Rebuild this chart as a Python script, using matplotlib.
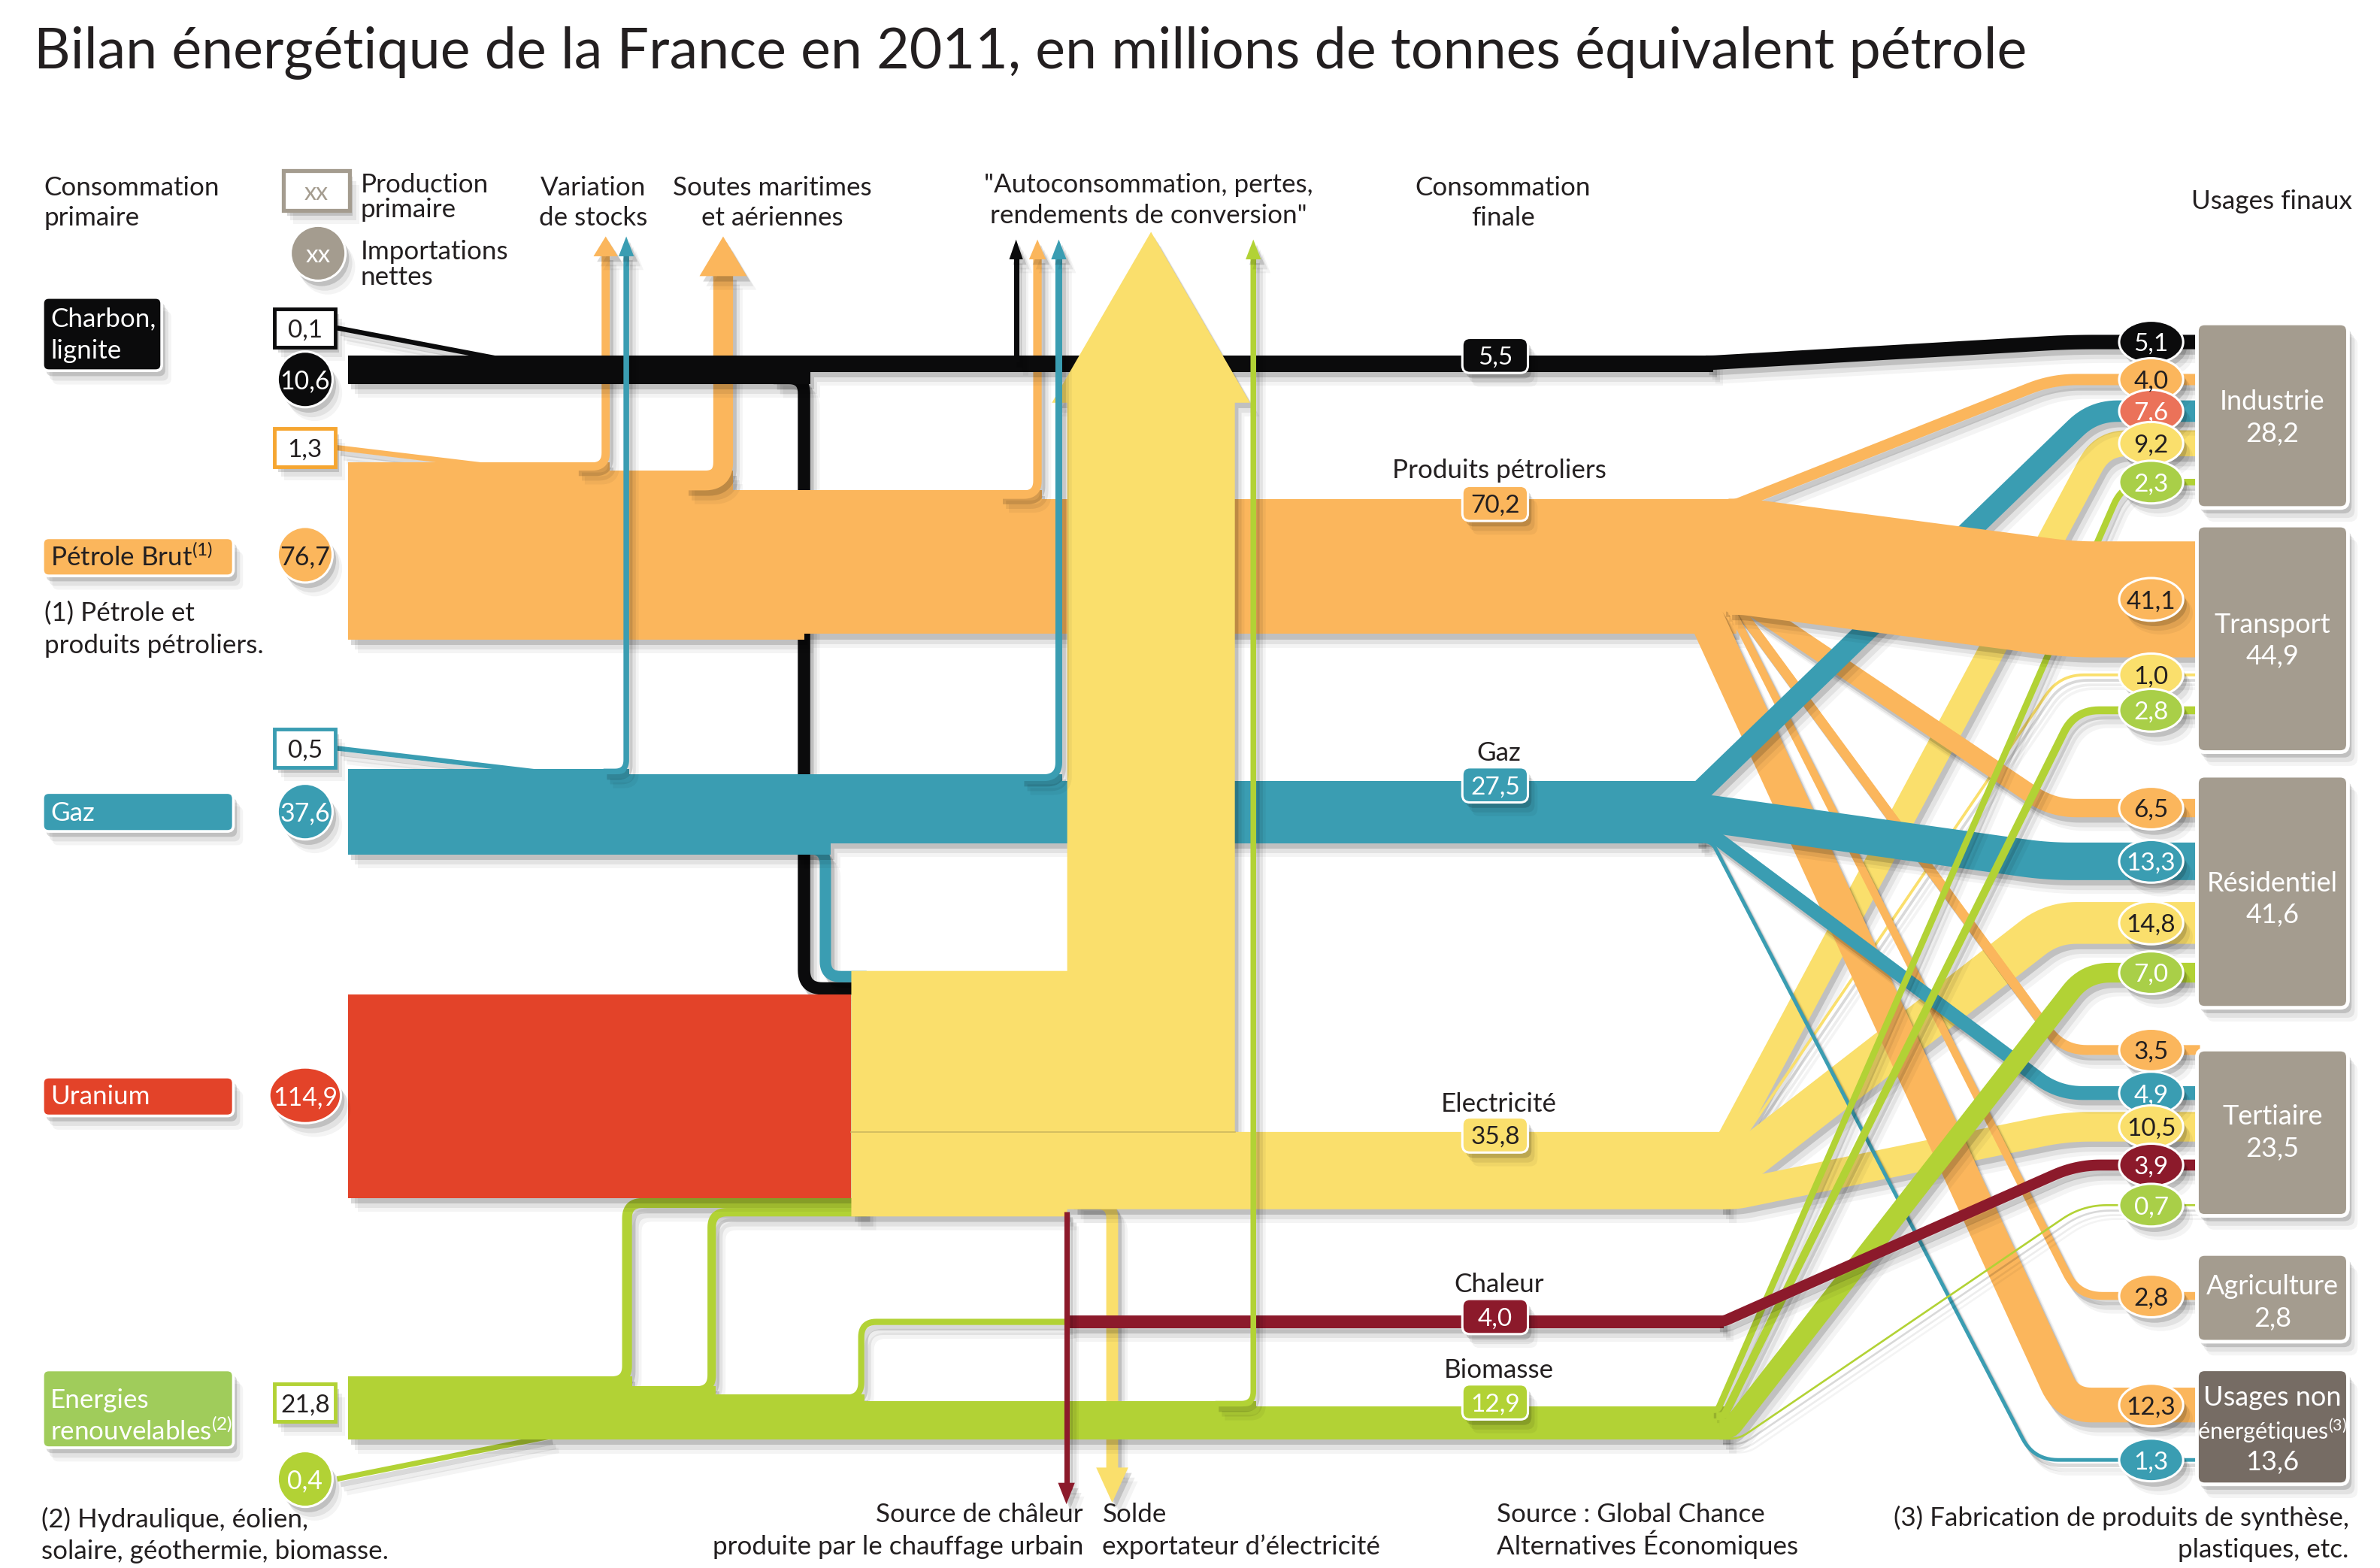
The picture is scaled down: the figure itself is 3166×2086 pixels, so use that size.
import numpy as np
import matplotlib
matplotlib.use("Agg")
import matplotlib.pyplot as plt
from matplotlib.patches import Polygon, FancyBboxPatch, Ellipse, Rectangle
from matplotlib.lines import Line2D
import matplotlib.patheffects as pe

plt.rcParams["font.family"] = ["Lato", "DejaVu Sans"]
plt.rcParams["mathtext.fontset"] = "custom"
plt.rcParams["mathtext.rm"] = "Lato"
plt.rcParams["mathtext.it"] = "Lato:italic"
plt.rcParams["mathtext.bf"] = "Lato:bold"

# ============================ DATA ============================
TITLE = "Bilan énergétique de la France en 2011, en millions de tonnes équivalent pétrole"

source_labels = ["Charbon,\nlignite", "Pétrole Brut$^{\\mathrm{(1)}}$", "Gaz", "Uranium",
                 "Energies\nrenouvelables$^{\\mathrm{(2)}}$"]
primary_production = [0.1, 1.3, 0.5, None, 21.8]
net_imports = [10.6, 76.7, 37.6, 114.9, 0.4]

carrier_keys = ["coal", "oil", "gas", "elec", "heat", "bio"]
carrier_labels = [None, "Produits pétroliers", "Gaz", "Electricité", "Chaleur", "Biomasse"]
carrier_values = [5.5, 70.2, 27.5, 35.8, 4.0, 12.9]

sector_labels = ["Industrie", "Transport", "Résidentiel", "Tertiaire", "Agriculture",
                 "Usages non\nénergétiques$^{\\mathrm{(3)}}$"]
sector_totals = [28.2, 44.9, 41.6, 23.5, 2.8, 13.6]

link_source = ["coal", "oil", "gas", "elec", "bio",
               "oil", "elec", "bio",
               "oil", "gas", "elec", "bio",
               "oil", "gas", "elec", "heat", "bio",
               "oil",
               "oil", "gas"]
link_sector = [0, 0, 0, 0, 0, 1, 1, 1, 2, 2, 2, 2, 3, 3, 3, 3, 3, 4, 5, 5]
link_value = [5.1, 4.0, 7.6, 9.2, 2.3,
              41.1, 1.0, 2.8,
              6.5, 13.3, 14.8, 7.0,
              3.5, 4.9, 10.5, 3.9, 0.7,
              2.8,
              12.3, 1.3]

# flows drawn without a label (magnitudes)
stock_oil, stock_gas = 2.9, 2.0
bunkers_oil = 7.0
own_use = {"coal": 1.9, "oil": 3.0, "gas": 2.4, "ren": 2.0}
to_power = {"coal": 4.4, "oil": 2.0, "gas": 4.0, "ren_a": 3.5, "ren_b": 3.0}
ren_to_heat = 2.2
power_losses = 91.0
power_export = 4.2
heat_source = 1.9

headers = [("Consommation", "primaire"), ("Variation", "de stocks"),
           ("Soutes maritimes", "et aériennes"),
           ('"Autoconsommation, pertes,', 'rendements de conversion"'),
           ("Consommation", "finale")]
legend_texts = [("Production", "primaire"), ("Importations", "nettes")]
notes = ["(1) Pétrole et", "produits pétroliers.",
         "(2) Hydraulique, éolien,", "solaire, géothermie, biomasse.",
         "Source de châleur", "produite par le chauffage urbain",
         "Solde", "exportateur d’électricité",
         "Source : Global Chance", "Alternatives Économiques",
         "(3) Fabrication de produits de synthèse,", "plastiques, etc."]

# ============================ LAYOUT / STYLE ============================
S = 2.0295                      # output px per layout unit
W, H = 3166 / S, 2086 / S
PT = 72 / 200 * S               # points per layout unit
FS = 12.6
TXT = "#231F20"

COL = {"coal": "#0B0B0C", "oil": "#FBB65C", "gas": "#3A9DB2", "elec": "#FADF6C",
       "heat": "#8C1A2B", "bio": "#B2D235", "uranium": "#E34329"}
CIRC = {"coal": "#0B0B0C", "oil": "#FBB65C", "gas": "#3A9DB2", "elec": "#FADF6C",
        "heat": "#8C1A2B", "bio": "#A9CF48"}
CIRC_TXT = {"coal": "white", "oil": TXT, "gas": "white", "elec": TXT, "heat": "white", "bio": "white"}
circle_override = {2: "#EB7259"}
GREY, DGREY = "#A49C8F", "#766C64"


def band_h(v):          # thickness of the horizontal carrier bands
    return 2.6 * v ** 0.83


def link_w(v):          # thickness of the individual flows
    return 1.85 * v


X_L = 228
C_TOP, O_TOP, G_TOP, E_TOP, HEAT_Y, B_TOP, U_TOP = 233, 327, 512, 742, 866.5, 922, 652
X_PLANT, X_SHAFT = 558, 699.5
X_OS, X_GS, X_SOU = 397, 410.5, 474
X_COAL_DN, X_GAS_DN = 527, 541
X_AUTO = {"coal": 666, "oil": 680, "gas": 694, "ren": 821.5}
X_REN = [411, 466.5, 564.5]
X_EXPORT, X_HSRC = 729, 699
Y_TIP, Y_BASE = 157, 170
X_CIRC, X_BOX0, X_BOX1 = 1410, 1440, 1539
X_END = {"coal": 1123, "oil": 1138, "gas": 1116, "elec": 1132, "heat": 1130, "bio": 1132}

link_circle_y = [224.2, 248.8, 269.5, 290.6, 316, 392.9, 442.4, 465.6, 529.7, 564.6, 605, 637.6,
                 688.3, 716.5, 738.6, 763.7, 790, 849.5, 921, 957]
link_xa = [1123, 1138, 1114, 1132, 1126, 1144, 1136, 1130, 1134, 1120, 1136, 1134,
           1136, 1122, 1138, 1130, 1140, 1134, 1118, 1122]
link_xb = [1357, 1345, 1372, 1378, 1392, 1357, 1350, 1360, 1345, 1342, 1345, 1367,
           1352, 1349, 1354, 1361, 1365, 1362, 1355, 1333]
link_z = {"elec": 3.50, "oil": 3.51, "gas": 3.52, "bio": 3.53, "heat": 3.54, "coal": 3.55}

sector_box_y = [(212, 333), (344.5, 493), (508.5, 660.6), (688, 797), (822, 879.5), (897.6, 973)]
sector_text_y = [262, 408, 577.5, 730.6, 842, 915]

fig = plt.figure(figsize=(3166 / 200, 2086 / 200), dpi=200)
ax = fig.add_axes([0, 0, 1, 1])
ax.set_xlim(0, W)
ax.set_ylim(H, 0)
ax.axis("off")


def fmt(v):
    return f"{v:.1f}".replace(".", ",")


def fx_line():
    return [pe.Stroke(offset=(4.6, -6.6), foreground="k", alpha=0.045),
            pe.Stroke(offset=(3.2, -4.8), foreground="k", alpha=0.07),
            pe.Stroke(offset=(1.7, -2.6), foreground="k", alpha=0.15), pe.Normal()]


def fx_patch():
    return [pe.SimplePatchShadow(offset=(4.6, -6.6), shadow_rgbFace="k", alpha=0.045),
            pe.SimplePatchShadow(offset=(3.2, -4.8), shadow_rgbFace="k", alpha=0.07),
            pe.SimplePatchShadow(offset=(1.7, -2.6), shadow_rgbFace="k", alpha=0.15), pe.Normal()]


def rounded(pts, r):
    pts = [np.array(p, float) for p in pts]
    out = [pts[0]]
    for i in range(1, len(pts) - 1):
        p0, p1, p2 = pts[i - 1], pts[i], pts[i + 1]
        d1, d2 = p1 - p0, p2 - p1
        l1, l2 = np.hypot(*d1), np.hypot(*d2)
        rr = min(r, l1 / 2, l2 / 2)
        a, b = p1 - d1 / l1 * rr, p1 + d2 / l2 * rr
        t = np.linspace(0, 1, 14)[:, None]
        out.extend((1 - t) ** 2 * a + 2 * (1 - t) * t * p1 + t ** 2 * b)
    out.append(pts[-1])
    return np.array(out)


def stroke(pts, w, color, z, r=12, fx=True):
    P = rounded(pts, r)
    ln = Line2D(P[:, 0], P[:, 1], linewidth=w * PT, color=color,
                solid_capstyle="butt", solid_joinstyle="round", zorder=z)
    if fx:
        ln.set_path_effects(fx_line())
    ax.add_line(ln)


def poly(pts, color, z, fx=True):
    p = Polygon(pts, closed=True, fc=color, ec="none", zorder=z)
    if fx:
        p.set_path_effects(fx_patch())
    ax.add_patch(p)


def head(x, yb, yt, hw, color, z):
    poly([(x - hw, yb), (x + hw, yb), (x, yt)], color, z)


def T(x, y, s, size=FS, ha="left", color=TXT, va="baseline", z=8):
    return ax.text(x, y, s, fontsize=size, ha=ha, va=va, color=color, zorder=z)


def lines(x, y0, ls, dy, **kw):
    for i, l in enumerate(ls):
        T(x, y0 + i * dy, l, **kw)


def rbox(x0, y0, x1, y1, fc, ec="white", lw=1.6, rs=4, z=7, fx=True):
    p = FancyBboxPatch((x0, y0), x1 - x0, y1 - y0, boxstyle=f"round,pad=0,rounding_size={rs}",
                       fc=fc, ec=ec, lw=lw * PT, zorder=z)
    if fx:
        p.set_path_effects(fx_patch())
    ax.add_patch(p)


def ell(cx, cy, w, h, fc, txt, tc, size=FS - 0.6, z=9):
    e = Ellipse((cx, cy), w, h, fc=fc, ec="white", lw=1.5 * PT, zorder=z)
    e.set_path_effects(fx_patch())
    ax.add_patch(e)
    T(cx, cy, txt, size=size, ha="center", va="center_baseline", color=tc, z=z + 0.5)


# ---------------- thicknesses ----------------
hC, hO, hG, hE, hH, hB = [band_h(v) for v in carrier_values]
hU = band_h(net_imports[3])
wLoss = band_h(power_losses)
wCe, wCa = link_w(to_power["coal"]), link_w(own_use["coal"])
wOs, wOb, wOa, wOe = link_w(stock_oil), link_w(bunkers_oil), link_w(own_use["oil"]), link_w(to_power["oil"])
wGs, wGa, wGe = link_w(stock_gas), link_w(own_use["gas"]), link_w(to_power["gas"])
wRa, wRb, wRh, wRu = link_w(to_power["ren_a"]), link_w(to_power["ren_b"]), link_w(ren_to_heat), link_w(own_use["ren"])
wX, wHs = link_w(power_export), link_w(heat_source)

U_BOT = U_TOP + hU
block_top = U_TOP - wCe - wGe
block_bot = U_BOT + wRa + wRb
E_BOT = E_TOP + hE
ot0 = O_TOP - wOs - wOb - wOa
gt0 = G_TOP - wGs - wGa
rt0 = B_TOP - wRa - wRb - wRh - wRu

# ---------------- final-use links (fan-out) ----------------
src_geom = {"coal": (C_TOP, hC), "oil": (O_TOP, hO), "gas": (G_TOP, hG), "elec": (E_TOP, hE),
            "heat": (HEAT_Y - hH / 2, hH), "bio": (B_TOP, hB)}
groups = {}
for i, s in enumerate(link_source):
    groups.setdefault(s, []).append(i)
y0 = [0.0] * len(link_value)
for s, idx in groups.items():
    top, h = src_geom[s]
    ws = [link_w(link_value[i]) for i in idx]
    f = min(1.0, h / sum(ws))
    cum = 0.0
    for i, w in zip(idx, ws):
        c = top + (cum + w / 2) * f
        lo, hi = top + w / 2, top + h - w / 2
        c = min(max(c, lo), hi) if lo <= hi else top + h / 2
        y0[i] = c
        cum += w

for i, s in enumerate(link_source):
    w = link_w(link_value[i])
    z = link_z[s] + (0.05 if (s == "oil" and link_sector[i] == 1) else 0)
    yc = link_circle_y[i]
    xs = min(X_END[s], link_xa[i]) - 5
    stroke([(xs, y0[i]), (link_xa[i], y0[i]), (link_xb[i], yc), (X_BOX0 + 2, yc)],
           max(w, 1.3), COL[s], z, r=16)

# ---------------- lines hidden behind the bands ----------------
stroke([(X_COAL_DN - 20, C_TOP + hC + wCe / 2), (X_COAL_DN, C_TOP + hC + wCe / 2),
        (X_COAL_DN, block_top + wGe + wCe / 2), (X_PLANT + 10, block_top + wGe + wCe / 2)],
       wCe, COL["coal"], 2.9, r=12)
stroke([(X_GAS_DN - 20, G_TOP + hG + wGe / 2), (X_GAS_DN, G_TOP + hG + wGe / 2),
        (X_GAS_DN, block_top + wGe / 2), (X_PLANT + 10, block_top + wGe / 2)],
       wGe, COL["gas"], 2.9, r=10)
stroke([(X_REN[0] - 20, rt0 + wRa / 2), (X_REN[0], rt0 + wRa / 2),
        (X_REN[0], U_BOT + wRa / 2), (X_PLANT + 10, U_BOT + wRa / 2)], wRa, COL["bio"], 2.9, r=10)
stroke([(X_REN[1] - 20, rt0 + wRa + wRb / 2), (X_REN[1], rt0 + wRa + wRb / 2),
        (X_REN[1], U_BOT + wRa + wRb / 2), (X_PLANT + 10, U_BOT + wRa + wRb / 2)], wRb, COL["bio"], 2.9, r=10)
stroke([(X_REN[2] - 20, rt0 + wRa + wRb + wRh / 2), (X_REN[2], rt0 + wRa + wRb + wRh / 2),
        (X_REN[2], HEAT_Y), (X_HSRC, HEAT_Y)], wRh, COL["bio"], 2.9, r=10)
# export of electricity, heat source
stroke([(X_EXPORT - 25, E_BOT - wX / 2), (X_EXPORT, E_BOT - wX / 2), (X_EXPORT, 963)], wX, COL["elec"], 2.95, r=10)
head(X_EXPORT, 962, 985, 10.5, COL["elec"], 2.95)
stroke([(X_HSRC, block_bot - 3), (X_HSRC, 973)], wHs, COL["heat"], 3.36, r=5)
head(X_HSRC, 972, 986, 5.5, COL["heat"], 3.36)

# ---------------- primary bands ----------------
poly([(X_L, U_TOP), (X_PLANT, U_TOP), (X_PLANT, U_BOT), (X_L, U_BOT)], COL["uranium"], 3.0)

poly([(X_L, ot0), (X_OS + wOs / 2, ot0), (X_OS + wOs / 2, ot0 + wOs),
      (X_SOU + wOb / 2, ot0 + wOs), (X_SOU + wOb / 2, ot0 + wOs + wOb),
      (X_AUTO["oil"] + wOa / 2, ot0 + wOs + wOb), (X_AUTO["oil"] + wOa / 2, O_TOP),
      (X_END["oil"], O_TOP), (X_END["oil"], O_TOP + hO), (X_COAL_DN, O_TOP + hO),
      (X_COAL_DN, O_TOP + hO + wOe), (X_L, O_TOP + hO + wOe)], COL["oil"], 3.0)

poly([(X_L, gt0), (X_GS + wGs / 2, gt0), (X_GS + wGs / 2, gt0 + wGs),
      (X_AUTO["gas"] + wGa / 2, gt0 + wGs), (X_AUTO["gas"] + wGa / 2, G_TOP),
      (X_END["gas"], G_TOP), (X_END["gas"], G_TOP + hG), (X_GAS_DN + wGe / 2, G_TOP + hG),
      (X_GAS_DN + wGe / 2, G_TOP + hG + wGe), (X_L, G_TOP + hG + wGe)], COL["gas"], 3.05)

poly([(X_L, rt0), (X_REN[0] + wRa / 2, rt0), (X_REN[0] + wRa / 2, rt0 + wRa),
      (X_REN[1] + wRb / 2, rt0 + wRa), (X_REN[1] + wRb / 2, rt0 + wRa + wRb),
      (X_REN[2] + wRh / 2, rt0 + wRa + wRb), (X_REN[2] + wRh / 2, rt0 + wRa + wRb + wRh),
      (X_AUTO["ren"] + wRu / 2, rt0 + wRa + wRb + wRh), (X_AUTO["ren"] + wRu / 2, B_TOP),
      (X_END["bio"], B_TOP), (X_END["bio"], B_TOP + hB), (X_L, B_TOP + hB)], COL["bio"], 3.0)

poly([(X_HSRC, HEAT_Y - hH / 2), (X_END["heat"], HEAT_Y - hH / 2),
      (X_END["heat"], HEAT_Y + hH / 2), (X_HSRC, HEAT_Y + hH / 2)], COL["heat"], 3.02)

# branches over the oil band
stroke([(X_OS - 20, ot0 + wOs / 2), (X_OS, ot0 + wOs / 2), (X_OS, 167)], wOs, COL["oil"], 3.1, r=9)
head(X_OS, 168, 155, 8, COL["oil"], 3.1)
stroke([(X_SOU - 25, ot0 + wOs + wOb / 2), (X_SOU, ot0 + wOs + wOb / 2), (X_SOU, 180)], wOb, COL["oil"], 3.1, r=12)
head(X_SOU, 181, 155, 15.5, COL["oil"], 3.1)
stroke([(X_AUTO["oil"] - 25, ot0 + wOs + wOb + wOa / 2), (X_AUTO["oil"], ot0 + wOs + wOb + wOa / 2),
        (X_AUTO["oil"], Y_BASE - 1)], wOa, COL["oil"], 3.1, r=9)
head(X_AUTO["oil"], Y_BASE, Y_TIP, 5.5, COL["oil"], 3.1)

# coal band
poly([(X_L, C_TOP), (X_END["coal"], C_TOP), (X_END["coal"], C_TOP + hC),
      (X_COAL_DN + wCe / 2, C_TOP + hC), (X_COAL_DN + wCe / 2, C_TOP + hC + wCe),
      (X_L, C_TOP + hC + wCe)], COL["coal"], 3.2)
stroke([(X_AUTO["coal"], C_TOP + 4), (X_AUTO["coal"], Y_BASE - 1)], wCa, COL["coal"], 3.2, r=5)
head(X_AUTO["coal"], Y_BASE, Y_TIP, 4.5, COL["coal"], 3.2)

# power plants block + arrow of losses + electricity band
xr = X_SHAFT + wLoss
poly([(X_PLANT, block_top), (X_SHAFT, block_top), (X_SHAFT, 264), (X_SHAFT - 10, 264),
      ((X_SHAFT + xr) / 2, 152), (xr + 10, 264), (xr, 264), (xr, E_TOP), (X_END["elec"], E_TOP),
      (X_END["elec"], E_BOT), (X_SHAFT, E_BOT), (X_SHAFT, block_bot), (X_PLANT, block_bot)],
     COL["elec"], 3.3)
ax.plot([X_PLANT, xr], [E_TOP, E_TOP], color="#CDB85E", lw=0.6, zorder=3.31)

# gas branches (over oil band and block)
stroke([(X_GS - 15, gt0 + wGs / 2), (X_GS, gt0 + wGs / 2), (X_GS, Y_BASE - 3)], wGs, COL["gas"], 3.4, r=8)
head(X_GS, 168, 155, 5, COL["gas"], 3.4)
stroke([(X_AUTO["gas"] - 25, gt0 + wGs + wGa / 2), (X_AUTO["gas"], gt0 + wGs + wGa / 2),
        (X_AUTO["gas"], Y_BASE - 1)], wGa, COL["gas"], 3.4, r=10)
head(X_AUTO["gas"], Y_BASE, Y_TIP, 5, COL["gas"], 3.4)
stroke([(X_AUTO["ren"] - 25, rt0 + wRa + wRb + wRh + wRu / 2), (X_AUTO["ren"], rt0 + wRa + wRb + wRh + wRu / 2),
        (X_AUTO["ren"], Y_BASE - 1)], wRu, COL["bio"], 3.4, r=8)
head(X_AUTO["ren"], Y_BASE, Y_TIP, 5, COL["bio"], 3.4)

# small production / import lines on the left
stroke([(221, 215), (324, C_TOP + 1.6)], max(link_w(primary_production[0]), 3.2), COL["coal"], 2.95)
stroke([(221, 293.5), (318, ot0 + 2)], max(link_w(primary_production[1]), 3.5), COL["oil"], 2.95)
stroke([(221, 490.5), (350, gt0 + 1.8)], max(link_w(primary_production[2]), 3.2), COL["gas"], 2.95)
stroke([(221, 969.5), (360, B_TOP + hB - 2)], max(link_w(net_imports[4]), 3.5), COL["bio"], 2.95)

# ============================ TEXT & MARKERS ============================
title = T(22, 44.7, TITLE, size=25)

lines(29, 128, headers[0], 20)
lines(389, 128, headers[1], 20, ha="center")
lines(506, 128, headers[2], 20, ha="center")
lines(753, 126, headers[3], 20.5, ha="center")
lines(985, 128, headers[4], 20, ha="center")
T(1489, 137, "Usages finaux", ha="center")

# legend
r = Rectangle((186, 112), 43, 26, fc="white", ec=GREY, lw=2.6 * PT, zorder=7)
r.set_path_effects(fx_patch())
ax.add_patch(r)
T(207.5, 125, "xx", ha="center", va="center_baseline", color=GREY, size=FS - 1)
ell(208.5, 166, 36, 36, GREY, "xx", "white")
lines(236.5, 126, legend_texts[0], 16.5)
lines(236.5, 170, legend_texts[1], 16.5)

# primary source label boxes
rbox(28, 195, 106, 243, COL["coal"], lw=1.8)
lines(33, 214, source_labels[0].split("\n"), 21, color="white")
rbox(28, 352.5, 153, 377.5, COL["oil"], lw=1.8)
T(33, 371, source_labels[1])
lines(29, 407, notes[0:2], 21)
rbox(28, 519.5, 153, 545, COL["gas"], lw=1.8)
T(33, 538, source_labels[2], color="white")
rbox(28, 706, 153, 731.5, COL["uranium"], lw=1.8)
T(33, 724, source_labels[3], color="white")
rbox(28, 898, 153, 949, "#A0CC5B", lw=1.8)
lines(33, 923, source_labels[4].split("\n"), 21, color="white")
lines(27, 1001, notes[2:4], 21)

# primary production (boxes) and net imports (circles)
prod_y = [215, 293.5, 490.5, None, 919.5]
imp_y = [248.7, 363.6, 532, 718, 969.5]
prod_ec = [COL["coal"], "#F6A631", COL["gas"], None, COL["bio"]]
imp_fc = [COL["coal"], COL["oil"], COL["gas"], COL["uranium"], COL["bio"]]
imp_tc = ["white", TXT, "white", "white", "white"]
for k in range(5):
    if primary_production[k] is not None:
        rr = Rectangle((180, prod_y[k] - 12.5), 40, 25, fc="white", ec=prod_ec[k], lw=2.4 * PT, zorder=7)
        rr.set_path_effects(fx_patch())
        ax.add_patch(rr)
        T(200, prod_y[k], fmt(primary_production[k]), ha="center", va="center_baseline", size=FS - 0.6)
    wid = 47 if net_imports[k] >= 100 else 36
    ell(200, imp_y[k], wid, 36.5, imp_fc[k], fmt(net_imports[k]), imp_tc[k], size=FS - 0.4)

# carrier labels and value boxes
lab_y = [None, 313.5, 498.6, 728.6, 847, 903]
box_y = [233, 330, 514.5, 744, 863, 919]
box_fc = [COL["coal"], COL["oil"], COL["gas"], COL["elec"], COL["heat"], COL["bio"]]
box_tc = ["white", TXT, "white", TXT, "white", "white"]
for k in range(6):
    if carrier_labels[k]:
        T(982.5, lab_y[k], carrier_labels[k], ha="center")
    rbox(958.5, box_y[k] - 11.5, 1001.5, box_y[k] + 11.5, box_fc[k], lw=1.5, rs=5)
    T(980, box_y[k], fmt(carrier_values[k]), ha="center", va="center_baseline", color=box_tc[k], size=FS - 0.6)

# link value circles
for i, s in enumerate(link_source):
    fc = circle_override.get(i, CIRC[s])
    tc = "white" if i in circle_override else CIRC_TXT[s]
    ell(X_CIRC, link_circle_y[i], 42, 28, fc, fmt(link_value[i]), tc)

# sector boxes
for k in range(6):
    y_a, y_b = sector_box_y[k]
    rbox(X_BOX0, y_a, X_BOX1, y_b, DGREY if k == 5 else GREY, lw=2.4, rs=5, z=6)
    xc = (X_BOX0 + X_BOX1) / 2
    parts = sector_labels[k].split("\n") + [fmt(sector_totals[k])]
    for j, p in enumerate(parts):
        sz = FS - 1.6 if "(3)" in p else FS + 0.4
        T(xc, sector_text_y[k] + j * 21, p, ha="center", va="center_baseline", color="white", size=sz, z=7)

# bottom notes
lines(710, 998, notes[4:6], 21, ha="right")
lines(722.5, 998, notes[6:8], 21)
lines(981, 998, notes[8:10], 21)
lines(1539.5, 1000, notes[10:12], 21, ha="right")

# fit the title to its width in the reference
fig.canvas.draw()
bb = title.get_window_extent()
title.set_fontsize(25 * (1307 * S) / bb.width)

fig.savefig("out.png", dpi=200)
